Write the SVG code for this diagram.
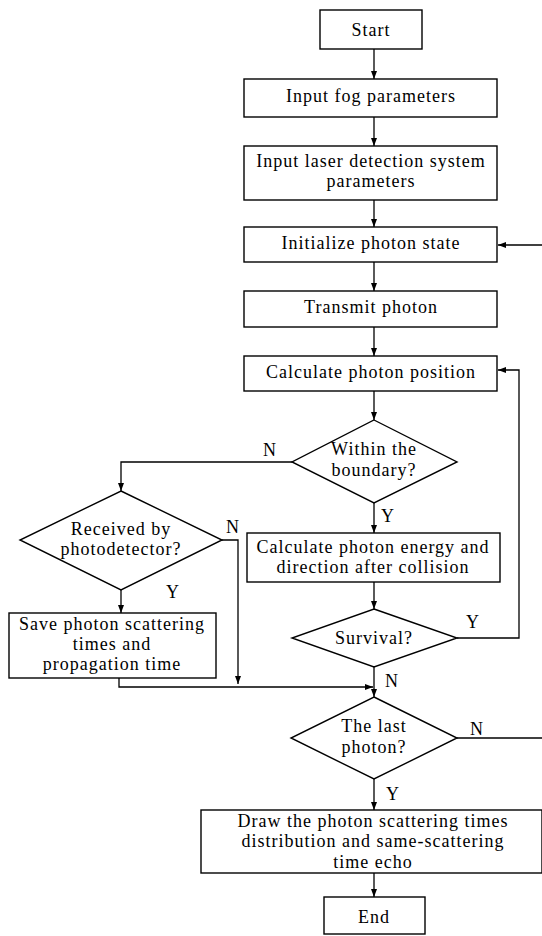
<svg xmlns="http://www.w3.org/2000/svg" width="542" height="936" viewBox="0 0 542 936">
<defs>
<marker id="ah" markerUnits="userSpaceOnUse" markerWidth="8" markerHeight="6" refX="8" refY="3" orient="auto">
<path d="M0,0 L8,3 L0,6 z" fill="#000"/>
</marker>
<style>
.box{fill:#fff;stroke:#000;stroke-width:1.4}
.t{font-family:"Liberation Serif","Times New Roman",serif;font-size:18px;letter-spacing:1px;text-anchor:middle;fill:#000}
.l{font-family:"Liberation Serif","Times New Roman",serif;font-size:18px;fill:#000}
.c{fill:none;stroke:#000;stroke-width:1.3}
.a{marker-end:url(#ah)}
</style>
</defs>
<rect width="542" height="936" fill="#fff"/>
<g id="connectors">
<path class="c a" d="M374,49 V79"/>
<path class="c a" d="M374,117 V146"/>
<path class="c a" d="M374,200 V227"/>
<path class="c a" d="M542,245 H498"/>
<path class="c a" d="M374,262 V291"/>
<path class="c a" d="M374,327 V356"/>
<path class="c a" d="M374,391 V420"/>
<path class="c a" d="M292,462 H121 V491"/>
<path class="c a" d="M374,503 V533"/>
<path class="c a" d="M121,590 V613"/>
<path class="c a" d="M222,540 H238 V684"/>
<path class="c a" d="M119,678 V687 H373"/>
<path class="c a" d="M374,582 V609"/>
<path class="c a" d="M457,638 H519 V370 H498"/>
<path class="c a" d="M374,667 V697"/>
<path class="c" d="M457,738 H542"/>
<path class="c a" d="M374,779 V810"/>
<path class="c a" d="M374,873 V897"/>
<text class="l" x="263" y="456">N</text>
<text class="l" x="226" y="533">N</text>
<text class="l" x="166" y="598">Y</text>
<text class="l" x="381" y="522">Y</text>
<text class="l" x="466" y="628">Y</text>
<text class="l" x="385" y="687">N</text>
<text class="l" x="470" y="735">N</text>
<text class="l" x="386" y="800">Y</text>
</g>
<g id="start"><rect class="box" x="320" y="10" width="102" height="39"/><text class="t" x="371" y="36">Start</text></g>
<g id="fog"><rect class="box" x="244" y="79" width="253" height="38"/><text class="t" x="371" y="102">Input fog parameters</text></g>
<g id="laser"><rect class="box" x="244" y="146" width="253" height="54"/><text class="t" x="371" y="167">Input laser detection system</text><text class="t" x="371" y="187">parameters</text></g>
<g id="init"><rect class="box" x="244" y="227" width="253" height="35"/><text class="t" x="371" y="249">Initialize photon state</text></g>
<g id="transmit"><rect class="box" x="244" y="291" width="253" height="36"/><text class="t" x="371" y="313">Transmit photon</text></g>
<g id="calcpos"><rect class="box" x="244" y="356" width="253" height="35"/><text class="t" x="371" y="378">Calculate photon position</text></g>
<g id="within"><polygon class="box" points="374,420 457,462 374,503 292,462"/><text class="t" x="374" y="455">Within the</text><text class="t" x="374" y="476">boundary?</text></g>
<g id="received"><polygon class="box" points="121,491 222,540 121,590 20,540"/><text class="t" x="121" y="535">Received by</text><text class="t" x="121" y="555">photodetector?</text></g>
<g id="save"><rect class="box" x="9" y="613" width="207" height="65"/><text class="t" x="112" y="630">Save photon scattering</text><text class="t" x="112" y="650">times and</text><text class="t" x="112" y="670">propagation time</text></g>
<g id="energy"><rect class="box" x="247" y="533" width="253" height="49"/><text class="t" x="373" y="553">Calculate photon energy and</text><text class="t" x="373" y="573">direction after collision</text></g>
<g id="survival"><polygon class="box" points="374,609 457,638 374,667 292,638"/><text class="t" x="374" y="644">Survival?</text></g>
<g id="last"><polygon class="box" points="374,697 457,738 374,779 291,738"/><text class="t" x="374" y="732">The last</text><text class="t" x="374" y="753">photon?</text></g>
<g id="draw"><rect class="box" x="201" y="810" width="341" height="63"/><text class="t" x="373" y="827">Draw the photon scattering times</text><text class="t" x="373" y="847">distribution and same-scattering</text><text class="t" x="373" y="868">time echo</text></g>
<g id="end"><rect class="box" x="324" y="897" width="101" height="37"/><text class="t" x="374" y="923">End</text></g>
</svg>
